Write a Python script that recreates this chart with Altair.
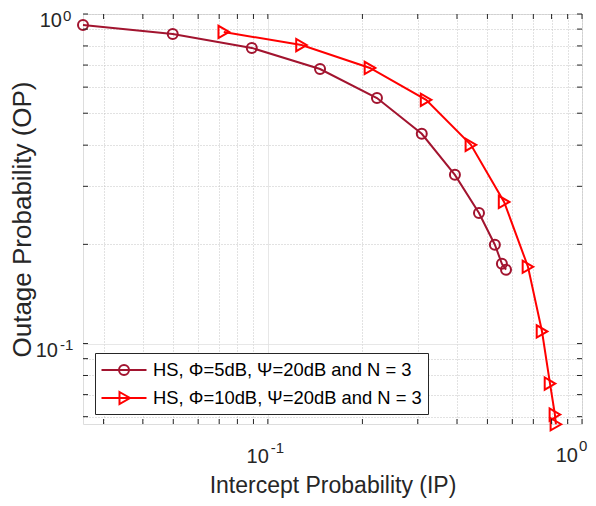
import altair as alt
import pandas as pd

# ---- data ----
s1_x = [0.0258, 0.0498, 0.0889, 0.1466, 0.2225, 0.309, 0.394, 0.470, 0.528, 0.556, 0.573]
s1_y = [0.926, 0.870, 0.789, 0.681, 0.556, 0.433, 0.325, 0.249, 0.1995, 0.1746, 0.1676]
s2_x = [0.0724, 0.128, 0.2114, 0.319, 0.443, 0.565, 0.673, 0.746, 0.791, 0.820, 0.826]
s2_y = [0.882, 0.805, 0.686, 0.549, 0.401, 0.269, 0.171, 0.1088, 0.0756, 0.0609, 0.0569]
labels = ["HS, Φ=5dB, Ψ=20dB and N = 3", "HS, Φ=10dB, Ψ=20dB and N = 3"]
colors = ["#A2142F", "#FF0000"]
x_ticks = [0.03, 0.04, 0.05, 0.06, 0.07, 0.08, 0.09, 0.1, 0.2, 0.3, 0.4, 0.5, 0.6, 0.7, 0.8, 0.9, 1]
y_ticks = [0.06, 0.07, 0.08, 0.09, 0.1, 0.2, 0.3, 0.4, 0.5, 0.6, 0.7, 0.8, 0.9, 1]
major_ticks = [0.1, 1]
major_exps = ["-1", "0"]
x_domain = [0.0258, 1]
y_domain = [0.057, 1]

W, H = 499, 410
FONT = "Liberation Sans"
TXT = "#262626"

df = pd.DataFrame({
    "x": s1_x + s2_x,
    "y": s1_y + s2_y,
    "series": [labels[0]] * len(s1_x) + [labels[1]] * len(s2_x),
})
xt = pd.DataFrame({"v": x_ticks})
yt = pd.DataFrame({"v": y_ticks})

xs = alt.Scale(type="log", domain=x_domain, nice=False)
ys = alt.Scale(type="log", domain=y_domain, nice=False)

is_major = "abs(datum.value - 0.1) < 1e-9"
grid_dash = {"condition": {"test": is_major, "value": [1, 0]}, "value": [1, 2]}
grid_col = {"condition": {"test": is_major, "value": "#DEDEDE"}, "value": "#C4C4C4"}

X = alt.X("x:Q", scale=xs, title="Intercept Probability (IP)",
          axis=alt.Axis(values=x_ticks, labels=False, grid=True, gridDash=grid_dash,
                        gridColor=grid_col, ticks=False, domain=False,
                        titleFontSize=23, titleFont=FONT, titleColor=TXT,
                        titleFontWeight="normal", titlePadding=50))
Y = alt.Y("y:Q", scale=ys, title="Outage Probability (OP)",
          axis=alt.Axis(values=y_ticks, labels=False, grid=True, gridDash=grid_dash,
                        gridColor=grid_col, ticks=False, domain=False,
                        titleFontSize=26, titleFont=FONT, titleColor=TXT,
                        titleFontWeight="normal", titlePadding=48))

base = alt.Chart(df)
layers = []
for lab, col, shp, sz in [(labels[0], colors[0], "circle", 100), (labels[1], colors[1], "triangle-right", 150)]:
    sub = base.transform_filter(alt.datum.series == lab)
    layers.append(sub.mark_line(color=col, strokeWidth=2).encode(x=X, y=Y))
    layers.append(sub.mark_point(color=col, shape=shp, size=sz, strokeWidth=2, filled=False,
                                 opacity=1).encode(x=X, y=Y))

# inward ticks on all four sides
tick_len = 5
tx = alt.Chart(xt)
ty = alt.Chart(yt)
tick_style = dict(color=TXT, strokeWidth=1)
layers += [
    tx.mark_rule(**tick_style).encode(x=alt.X("v:Q", scale=xs), y=alt.value(0), y2=alt.value(tick_len)),
    tx.mark_rule(**tick_style).encode(x=alt.X("v:Q", scale=xs), y=alt.value(H), y2=alt.value(H - tick_len)),
    ty.mark_rule(**tick_style).encode(y=alt.Y("v:Q", scale=ys), x=alt.value(0), x2=alt.value(tick_len)),
    ty.mark_rule(**tick_style).encode(y=alt.Y("v:Q", scale=ys), x=alt.value(W), x2=alt.value(W - tick_len)),
]

# tick labels 10^e (base and raised exponent)
x_off = {"-1": (1, 3, H + 39, H + 29), "0": (-4, -3, H + 38, H + 27)}
y_off = {"-1": (-25, -23, 13, 6), "0": (-21, -20, 13, 7)}
for v, e in zip(major_ticks, major_exps):
    d = pd.DataFrame({"v": [v], "b": ["10"], "e": [e]})
    c = alt.Chart(d)
    bx, ex, by, ey = x_off[e]
    layers.append(c.mark_text(align="right", baseline="alphabetic", dx=bx, fontSize=20, font=FONT,
                              color=TXT).encode(x=alt.X("v:Q", scale=xs), y=alt.value(by), text="b:N"))
    layers.append(c.mark_text(align="left", baseline="alphabetic", dx=ex, fontSize=15, font=FONT,
                              color=TXT).encode(x=alt.X("v:Q", scale=xs), y=alt.value(ey), text="e:N"))
    bx, ex, by, ey = y_off[e]
    layers.append(c.mark_text(align="right", baseline="alphabetic", dy=by, fontSize=20, font=FONT,
                              color=TXT).encode(y=alt.Y("v:Q", scale=ys), x=alt.value(bx), text="b:N"))
    layers.append(c.mark_text(align="left", baseline="alphabetic", dy=ey, fontSize=15, font=FONT,
                              color=TXT).encode(y=alt.Y("v:Q", scale=ys), x=alt.value(ex), text="e:N"))

# legend (line + marker symbols); path drawn beyond the unit box so rows stay compact
circ_path = "M-2.25,0L2.25,0M0.5,0A0.5,0.5 0 1,1 -0.5,0A0.5,0.5 0 1,1 0.5,0Z"
tri_path = "M-2.25,0L2.25,0M-0.45,-0.6L0.6,0L-0.45,0.6Z"
legend_def = alt.Legend(title=None, orient="none", legendX=12, legendY=339,
                        symbolSize=400, symbolStrokeWidth=2, symbolOpacity=1,
                        symbolOffset=12, labelFontSize=18.4, labelFont=FONT, labelColor="#000000",
                        fillColor="#FFFFFF", strokeColor="#262626", padding=6,
                        rowPadding=7, labelOffset=18, labelLimit=400)
leg = base.mark_point(filled=False, strokeWidth=2, opacity=0).encode(
    x=X, y=Y,
    color=alt.Color("series:N", scale=alt.Scale(domain=labels, range=colors), legend=legend_def),
    shape=alt.Shape("series:N", scale=alt.Scale(domain=labels, range=[circ_path, tri_path]),
                    legend=legend_def),
)
layers.append(leg)

chart = alt.layer(*layers).properties(
    width=W, height=H,
    autosize=alt.AutoSizeParams(type="none"),
    padding={"left": 75, "top": 6, "right": 6, "bottom": 74},
).configure_view(stroke=TXT, strokeWidth=1).configure(background="#FFFFFF")

chart.save("out.html", embed_options={"renderer": "svg", "actions": False})
